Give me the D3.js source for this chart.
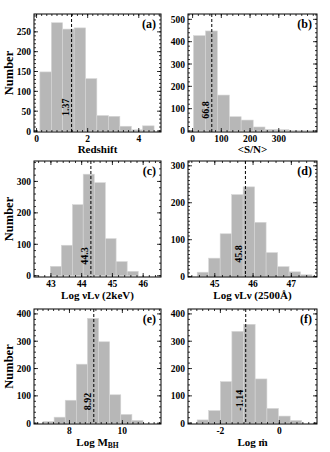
<!DOCTYPE html>
<html><head><meta charset="utf-8">
<script src="https://cdn.jsdelivr.net/npm/d3@7"></script>
<style>
body{margin:0;background:#fff}
svg{display:block}
text{font-family:"Liberation Serif","Times New Roman",serif;font-weight:bold;fill:#000}
</style>
</head><body><div id="chart"></div>
<script>
// ---- data (bin edges and counts) ----
const redshiftEdges  = [0.13, 0.58, 1.02, 1.47, 1.92, 2.36, 2.81, 3.26, 3.71, 4.15, 4.60];
const redshiftCounts = [149, 273, 257, 260, 132, 39, 37, 12, 3, 13];
const redshiftMedian = 1.37;

const snEdges  = [3, 45, 86, 128, 169, 211, 252, 294, 335, 377, 418];
const snCounts = [427, 448, 161, 64, 49, 18, 7, 6, 3, 2];
const snMedian = 66.8;

const lx2keVEdges  = [42.98, 43.34, 43.70, 44.05, 44.41, 44.77, 45.12, 45.48, 45.84];
const lx2keVCounts = [30, 97, 226, 323, 296, 118, 45, 14];
const lx2keVMedian = 44.3;

const l2500Edges  = [44.54, 44.84, 45.14, 45.44, 45.74, 46.04, 46.34, 46.64, 46.94, 47.24, 47.54];
const l2500Counts = [12, 50, 116, 222, 243, 147, 65, 27, 13, 5];
const l2500Median = 45.8;

const mbhEdges  = [7.00, 7.42, 7.84, 8.26, 8.68, 9.10, 9.52, 9.94, 10.36, 10.78];
const mbhCounts = [6, 22, 84, 216, 384, 298, 104, 32, 10];
const mbhMedian = 8.92;

const mdotEdges  = [-2.79, -2.40, -2.00, -1.61, -1.21, -0.82, -0.42, -0.03, 0.37, 0.76];
const mdotCounts = [12, 46, 152, 336, 362, 162, 54, 26, 10];
const mdotMedian = -1.14;

const xTickA = [0, 2, 4],          yTickA = [0, 50, 100, 150, 200, 250];
const xTickB = [0, 100, 200, 300], yTickB = [0, 100, 200, 300, 400, 500];
const xTickC = [43, 44, 45, 46],   yTickC = [0, 100, 200, 300];
const xTickD = [45, 46, 47],       yTickD = [0, 100, 200, 300];
const xTickE = [8, 10],            yTickE = [0, 100, 200, 300, 400];
const xTickF = [-2, 0],            yTickF = [0, 100, 200, 300, 400];

// ---- layout / options ----
const W = 330, H = 452;
const colL = [34, 161], colR = [188, 317];
const rows = [[14, 132], [161, 277], [309, 424]];
const titleBase = [153, 299, 446];

const panels = [
  {letter:"(a)", edges:redshiftEdges, counts:redshiftCounts, median:redshiftMedian, mlabel:"1.37",
   xd:[-0.1, 4.87], yd:[-2.5, 295], xt:xTickA, yt:yTickA, xm:0.2, ym:10, col:colL, row:0, ly:60,
   title:["Redshift"], ylab:true},
  {letter:"(b)", edges:snEdges, counts:snCounts, median:snMedian, mlabel:"66.8",
   xd:[-16, 433], yd:[-4.5, 524], xt:xTickB, yt:yTickB, xm:20, ym:20, col:colR, row:0, ly:94,
   title:["<S/N>"], ylab:false},
  {letter:"(c)", edges:lx2keVEdges, counts:lx2keVCounts, median:lx2keVMedian, mlabel:"44.3",
   xd:[42.45, 46.58], yd:[-4, 365], xt:xTickC, yt:yTickC, xm:0.2, ym:20, col:colL, row:1, ly:63,
   title:["Log νLν (2keV)"], ylab:true},
  {letter:"(d)", edges:l2500Edges, counts:l2500Counts, median:l2500Median, mlabel:"45.8",
   xd:[44.3, 47.67], yd:[-1, 313], xt:xTickD, yt:yTickD, xm:0.2, ym:10, col:colR, row:1, ly:61,
   title:["Log νLν (2500Å)"], ylab:false},
  {letter:"(e)", edges:mbhEdges, counts:mbhCounts, median:mbhMedian, mlabel:"8.92",
   xd:[6.66, 11.46], yd:[-3, 418], xt:xTickE, yt:yTickE, xm:0.2, ym:20, col:colL, row:2, ly:79,
   title:["Log M", "BH"], ylab:true},
  {letter:"(f)", edges:mdotEdges, counts:mdotCounts, median:mdotMedian, mlabel:"-1.14",
   xd:[-3.1, 1.28], yd:[-3, 418], xt:xTickF, yt:yTickF, xm:0.2, ym:20, col:colR, row:2, ly:84,
   title:["Log ṁ"], ylab:false}
];

const svg = d3.select("#chart").append("svg").attr("width", W).attr("height", H);
svg.append("rect").attr("width", W).attr("height", H).attr("fill", "#fff");

function minorVals(d, step) {
  const out = [];
  const k0 = Math.ceil(d[0] / step - 1e-9), k1 = Math.floor(d[1] / step + 1e-9);
  for (let k = k0; k <= k1; k++) out.push(+(k * step).toFixed(6));
  return out;
}

panels.forEach(p => {
  const [x0, x1] = p.col, [y0, y1] = rows[p.row];
  const x = d3.scaleLinear().domain(p.xd).range([x0, x1]);
  const y = d3.scaleLinear().domain(p.yd).range([y1, y0]);
  const g = svg.append("g");

  const bins = p.counts.map((c, i) => ({x0: p.edges[i], x1: p.edges[i + 1], c}));
  g.selectAll("rect.bar").data(bins).join("rect").attr("class", "bar")
    .attr("x", d => x(d.x0)).attr("width", d => x(d.x1) - x(d.x0))
    .attr("y", d => y(d.c)).attr("height", d => y(0) - y(d.c))
    .attr("fill", "#b7b7b7").attr("stroke", "#d6d6d6").attr("stroke-width", 0.6);

  // median line
  g.append("line").attr("x1", x(p.median)).attr("x2", x(p.median))
    .attr("y1", y0).attr("y2", y1)
    .attr("stroke", "#000").attr("stroke-width", 1).attr("stroke-dasharray", "3,2");
  g.append("text")
    .attr("transform", `translate(${x(p.median) - 3},${y(p.ly)}) rotate(-90)`)
    .attr("text-anchor", "middle").attr("font-size", 10).text(p.mlabel);

  // ticks (inward, all sides)
  const tk = g.append("g").attr("stroke", "#000").attr("stroke-width", 0.8);
  minorVals(p.xd, p.xm).forEach(v => {
    tk.append("line").attr("x1", x(v)).attr("x2", x(v)).attr("y1", y1).attr("y2", y1 - 2);
    tk.append("line").attr("x1", x(v)).attr("x2", x(v)).attr("y1", y0).attr("y2", y0 + 2);
  });
  p.xt.forEach(v => {
    tk.append("line").attr("x1", x(v)).attr("x2", x(v)).attr("y1", y1).attr("y2", y1 - 4);
    tk.append("line").attr("x1", x(v)).attr("x2", x(v)).attr("y1", y0).attr("y2", y0 + 4);
  });
  minorVals(p.yd, p.ym).forEach(v => {
    tk.append("line").attr("x1", x0).attr("x2", x0 + 2).attr("y1", y(v)).attr("y2", y(v));
    tk.append("line").attr("x1", x1).attr("x2", x1 - 2).attr("y1", y(v)).attr("y2", y(v));
  });
  p.yt.forEach(v => {
    tk.append("line").attr("x1", x0).attr("x2", x0 + 4).attr("y1", y(v)).attr("y2", y(v));
    tk.append("line").attr("x1", x1).attr("x2", x1 - 4).attr("y1", y(v)).attr("y2", y(v));
  });

  // frame
  g.append("rect").attr("x", x0).attr("y", y0).attr("width", x1 - x0).attr("height", y1 - y0)
    .attr("fill", "none").attr("stroke", "#000").attr("stroke-width", 1);

  // tick labels
  g.selectAll("text.xt").data(p.xt).join("text").attr("class", "xt")
    .attr("x", d => x(d)).attr("y", y1 + 9.5).attr("text-anchor", "middle")
    .attr("font-size", 9.5).text(d => d);
  g.selectAll("text.yt").data(p.yt).join("text").attr("class", "yt")
    .attr("x", x0 - 3).attr("y", d => y(d) + 3.5).attr("text-anchor", "end")
    .attr("font-size", 9.5).text(d => d);

  // panel letter
  g.append("text").attr("x", x1 - 5).attr("y", y0 + 14).attr("text-anchor", "end")
    .attr("font-size", 12).text(p.letter);

  // x title
  const t = g.append("text").attr("x", (x0 + x1) / 2).attr("y", titleBase[p.row])
    .attr("text-anchor", "middle").attr("font-size", 11);
  t.append("tspan").text(p.title[0]);
  if (p.title[1]) t.append("tspan").attr("font-size", 7.5).attr("dy", 2).text(p.title[1]);

  if (p.ylab) {
    g.append("text").attr("transform", `translate(13,${(y0 + y1) / 2}) rotate(-90)`)
      .attr("text-anchor", "middle").attr("font-size", 12.5).text("Number");
  }
});
</script>
</body></html>
